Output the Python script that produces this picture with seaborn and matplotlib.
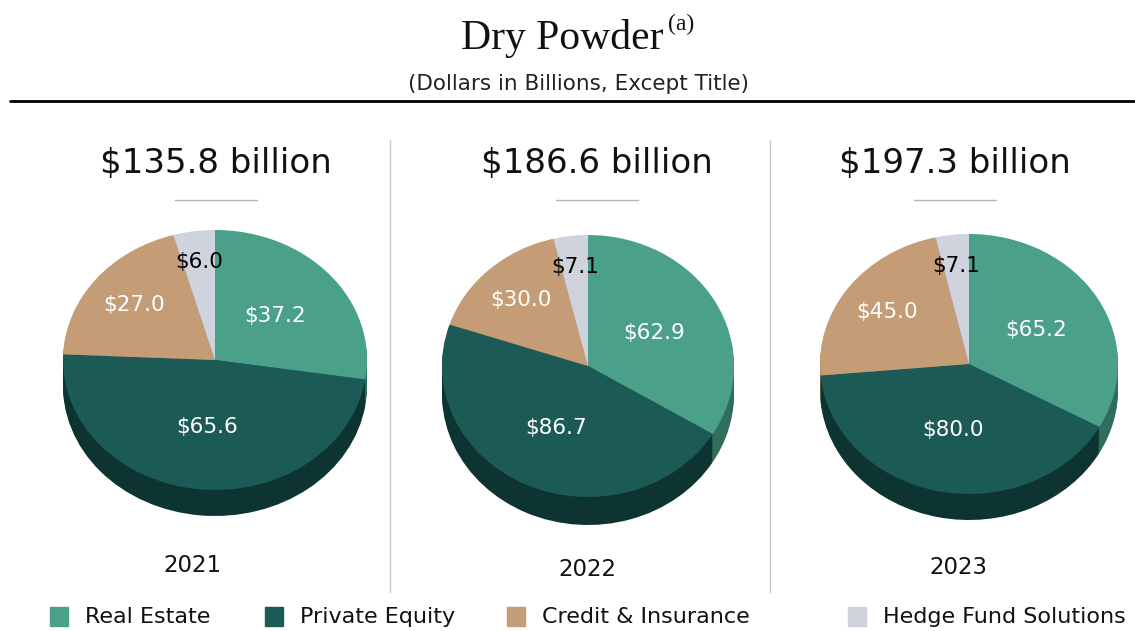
import numpy as np
import matplotlib
matplotlib.use('Agg')
import matplotlib.pyplot as plt
from matplotlib.lines import Line2D
from matplotlib.patches import Rectangle
import seaborn as sns

# 数据
years = ['2021', '2022', '2023']
totals = ['$135.8 billion', '$186.6 billion', '$197.3 billion']
categories = ['Real Estate', 'Private Equity', 'Credit & Insurance', 'Hedge Fund Solutions']
values_2021 = [37.2, 65.6, 27.0, 6.0]
values_2022 = [62.9, 86.7, 30.0, 7.1]
values_2023 = [65.2, 80.0, 45.0, 7.1]
all_values = [values_2021, values_2022, values_2023]

sns.set_theme(style='white')
plt.rcParams['font.family'] = ['DejaVu Sans']

colors = sns.color_palette(['#4ba089', '#1c5a56', '#c49c76', '#cfd3de'])
side_colors = ['#2f6d5e', '#0e3431', '#8a6a4d', '#9a9ea8']
label_colors = ['white', 'white', 'white', 'black']
label_dist = [0.52, 0.52, 0.68, 0.76]

W, H = 1135, 631
fig = plt.figure(figsize=(W / 100, H / 100), dpi=100)
fig.patch.set_facecolor('white')


def fx(x):
    return x / W


def fy(y):
    return 1 - y / H


# 标题
fig.text(fx(562), fy(38), 'Dry Powder', family='Liberation Serif', fontsize=30,
         ha='center', va='center', color='#111111')
fig.text(fx(668), fy(24), '(a)', family='Liberation Serif', fontsize=17,
         ha='left', va='center', color='#111111')
fig.text(fx(578), fy(84), '(Dollars in Billions, Except Title)', fontsize=15.5,
         ha='center', va='center', color='#222222')
fig.add_artist(Line2D([fx(10), fx(1135)], [fy(101), fy(101)], color='black', lw=2))

# 分隔线
for x in [390, 770]:
    fig.add_artist(Line2D([fx(x), fx(x)], [fy(140), fy(592)], color='#c8c8c8', lw=1))

# 饼图位置 (像素)
geo = [
    dict(cx=215, cy=360, rx=152, ry=130, depth=26, tx=216, ty=163, yx=192, yy=565),
    dict(cx=588, cy=366, rx=146, ry=131, depth=28, tx=597, ty=163, yx=587, yy=569),
    dict(cx=969, cy=364, rx=149, ry=130, depth=26, tx=955, ty=163, yx=958, yy=568),
]

for vals, total, year, g in zip(all_values, totals, years, geo):
    d = g['depth'] / g['ry']
    left = g['cx'] - g['rx']
    bottom = g['cy'] + g['ry'] + g['depth']
    ax = fig.add_axes([fx(left), fy(bottom), 2 * g['rx'] / W, (2 * g['ry'] + g['depth']) / H])
    # 立体侧面
    for k in np.linspace(d, 0, 14)[:-1]:
        ax.pie(vals, colors=side_colors, startangle=90, counterclock=False,
               center=(0, -k), radius=1, wedgeprops=dict(linewidth=0))
    wedges, _ = ax.pie(vals, colors=colors, startangle=90, counterclock=False,
                       radius=1, wedgeprops=dict(linewidth=0))
    for w, v, c, dist in zip(wedges, vals, label_colors, label_dist):
        ang = np.deg2rad((w.theta1 + w.theta2) / 2)
        ax.text(dist * np.cos(ang), dist * np.sin(ang), f'${v:.1f}', color=c,
                fontsize=15.5, ha='center', va='center')
    ax.set_aspect('auto')
    ax.set_xlim(-1, 1)
    ax.set_ylim(-1 - d, 1)
    ax.axis('off')

    fig.text(fx(g['tx']), fy(g['ty']), total, fontsize=24.5, ha='center', va='center',
             color='#111111')
    fig.add_artist(Line2D([fx(g['tx'] - 41), fx(g['tx'] + 41)], [fy(200), fy(200)],
                          color='#b5b5b5', lw=1))
    fig.text(fx(g['yx']), fy(g['yy']), year, fontsize=16.5, ha='center', va='center',
             color='#111111')

# 图例
legend_x = [50, 265, 507, 848]
for x, cat, c in zip(legend_x, categories, colors):
    fig.add_artist(Rectangle((fx(x), fy(626)), 18 / W, 19 / H, color=c,
                             transform=fig.transFigure))
    fig.text(fx(x + 35), fy(617), cat, fontsize=16, ha='left', va='center', color='#111111')

fig.savefig('out.png', dpi=100)
